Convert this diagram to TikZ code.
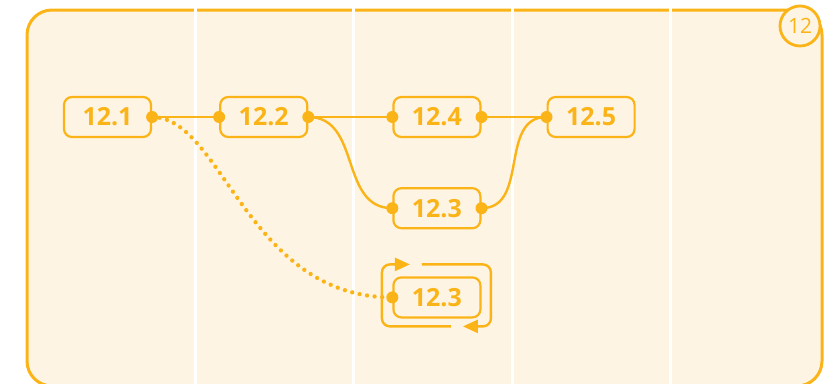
\documentclass[tikz,border=0pt]{standalone}
\usepackage{fontspec}
\setmainfont{Open Sans}
\usepackage{xcolor}
\usepackage{tikz}
\usetikzlibrary{positioning,arrows.meta}

\definecolor{amber}{HTML}{FBB417}
\definecolor{cream}{HTML}{FEF4E3}

\begin{document}
\begin{tikzpicture}[
  x=1pt, y=-1pt,
  node distance=49pt and 67pt,
  frame/.style={draw=amber, fill=cream, line width=3pt, rounded corners=25pt},
  divider/.style={white, line width=3pt},
  badge/.style={circle, draw=amber, fill=cream, line width=2.8pt, minimum size=40pt, inner sep=0pt, text=amber, font=\fontsize{21}{25}\selectfont},
  task/.style={rectangle, draw=amber, line width=2.2pt, rounded corners=8pt, minimum width=87pt, minimum height=40pt, inner sep=0pt, text=amber, font=\fontsize{25}{29}\selectfont\bfseries},
  link/.style={amber, line width=2.4pt},
  dotlink/.style={amber, line width=4.3pt, line cap=round, dash pattern=on 0pt off 7.6pt},
  spin/.style={amber, line width=2.4pt, rounded corners=8pt, -{Triangle[length=15pt,width=13pt]}},
  joint/.style={fill=amber}
]
  \useasboundingbox (0,0) rectangle (834,383);
  \clip (0,0) rectangle (834,383);

  % Background lanes
  \draw[frame] (27,10) rectangle (822,386);
  \foreach \x in {195,353,512,670}
    \draw[divider] (\x,8) -- (\x,386);
  \node[badge] (stage) at (800,26) {12};

  % Main nodes
  \node[task] (task1) at (107.5,117) {12.1};
  \node[task, right=67pt of task1] (task2) {12.2};
  \node[task, right=84pt of task2] (task4) {12.4};
  \node[task, right=65pt of task4] (task5) {12.5};
  \node[task, below=49pt of task4] (task3) {12.3};
  \node[task, below=47pt of task3] (rework) {12.3};

  % Connections
  \draw[link] (task1.east) -- (task2.west);
  \draw[link] (task2.east) -- (task4.west);
  \draw[link] (task4.east) -- (task5.west);
  \draw[link] (task2.east) to[out=0, in=180, looseness=1.1] (task3.west);
  \draw[link] (task3.east) to[out=0, in=180, looseness=1.1] (task5.west);
  \draw[dotlink] (task1.east) .. controls +(70,0) and +(-145,0) .. (rework.west);

  % Repeat loop
  \draw[spin] ([shift={(-15,-33)}]rework.center) -- ([shift={(54,-33)}]rework.center)
    -- ([shift={(54,29)}]rework.center) -- ([shift={(26,29)}]rework.center);
  \draw[spin] ([shift={(14,29)}]rework.center) -- ([shift={(-55,29)}]rework.center)
    -- ([shift={(-55,-33)}]rework.center) -- ([shift={(-27,-33)}]rework.center);

  % End points
  \foreach \a in {task1.east, task2.west, task2.east, task4.west, task4.east, task5.west, task3.west, task3.east, rework.west}
    \fill[joint] (\a) circle[radius=6pt];
\end{tikzpicture}
\end{document}
